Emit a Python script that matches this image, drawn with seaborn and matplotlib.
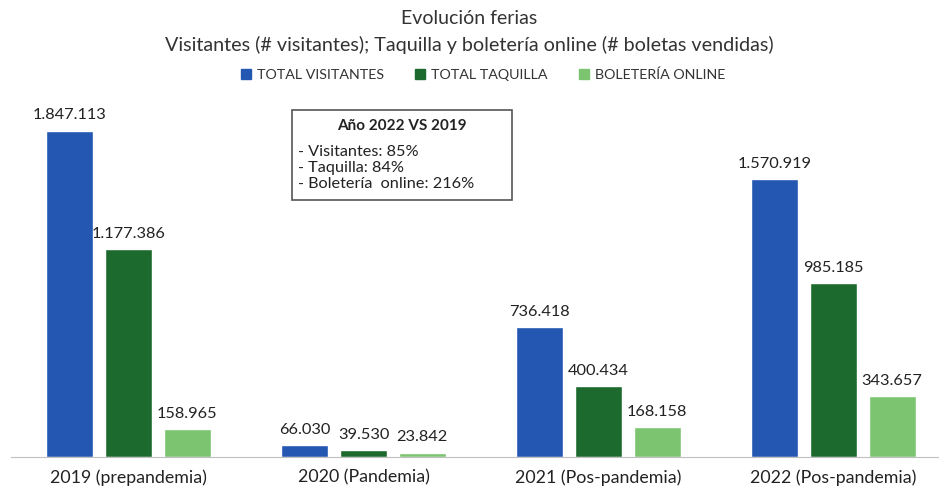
import pandas as pd
import matplotlib.pyplot as plt
import seaborn as sns

# Data
years = ['2019 (prepandemia)', '2020 (Pandemia)', '2021 (Pos-pandemia)', '2022 (Pos-pandemia)']
series = ['TOTAL VISITANTES', 'TOTAL TAQUILLA', 'BOLETERÍA ONLINE']
visitantes = [1847113, 66030, 736418, 1570919]
taquilla = [1177386, 39530, 400434, 985185]
online = [158965, 23842, 168158, 343657]
colors = ['#2457b2', '#1d6a2f', '#7cc470']

df = pd.DataFrame({
    'Year': years * 3,
    'Serie': [s for s in series for _ in years],
    'Value': visitantes + taquilla + online,
})

sns.set_style('white')
plt.rcParams['font.family'] = ['Lato', 'DejaVu Sans']

fig = plt.figure(figsize=(9.39, 4.93), dpi=100)
ax = fig.add_axes([0.012, 0.073, 0.988, 0.735])

sns.barplot(data=df, x='Year', y='Value', hue='Serie', hue_order=series,
            palette=colors, width=0.75, gap=0.2, ax=ax, legend=False,
            saturation=1)

fmt = lambda v: f'{int(v):,}'.replace(',', '.')
for cont in ax.containers:
    ax.bar_label(cont, labels=[fmt(v) for v in cont.datavalues],
                 padding=6, fontsize=11.8, color='#222222')

ax.set_ylim(0, 2.05e6)
ax.set_xlim(-0.5, 3.45)
ax.set_yticks([])
ax.set_xlabel('')
ax.set_ylabel('')
ax.tick_params(axis='x', length=0, pad=9, labelsize=12.8, labelcolor='#222222')
for s in ['top', 'left', 'right']:
    ax.spines[s].set_visible(False)
ax.spines['bottom'].set_color('#bfbfbf')

# Titles
fig.text(0.5, 1 - 18 / 493, 'Evolución ferias', ha='center', va='center', fontsize=14, color='#333333')
fig.text(0.5, 1 - 45 / 493, 'Visitantes (# visitantes); Taquilla y boletería online (# boletas vendidas)',
         ha='center', va='center', fontsize=14.2, color='#333333')

# Legend
handles = [plt.Rectangle((0, 0), 1, 1, color=c) for c in colors]
fig.legend(handles, series, loc='center', bbox_to_anchor=(483 / 939, 1 - 75 / 493), ncol=3,
           frameon=False, fontsize=10.3, handlelength=0.7, handleheight=0.7,
           handletextpad=0.4, columnspacing=2.2, labelcolor='#333333')

# Annotation box
box_txt = ('- Visitantes: 85%\n- Taquilla: 84%\n- Boletería  online: 216%')
fig.patches.append(plt.Rectangle((292 / 939, 1 - 200 / 493), 220 / 939, 90 / 493,
                                 transform=fig.transFigure, fill=False,
                                 edgecolor='#555555', linewidth=1.2))
fig.text(402 / 939, 1 - 126 / 493, 'Año 2022 VS 2019', ha='center', va='center',
         fontsize=11, fontweight='bold', color='#222222')
fig.text(298 / 939, 1 - 168 / 493, box_txt, ha='left', va='center',
         fontsize=11.7, color='#222222', linespacing=1.2)

plt.savefig('out.png', dpi=100)
